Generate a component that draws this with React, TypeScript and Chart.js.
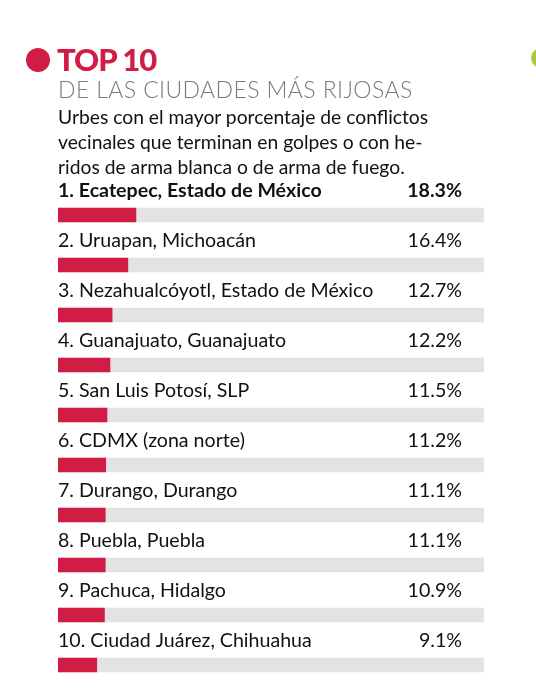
import React, { useEffect, useRef } from "react";
import { Chart, registerables } from "chart.js";

Chart.register(...registerables);

const cities = [
  "1. Ecatepec, Estado de México",
  "2. Uruapan, Michoacán",
  "3. Nezahualcóyotl, Estado de México",
  "4. Guanajuato, Guanajuato",
  "5. San Luis Potosí, SLP",
  "6. CDMX (zona norte)",
  "7. Durango, Durango",
  "8. Puebla, Puebla",
  "9. Pachuca, Hidalgo",
  "10. Ciudad Juárez, Chihuahua",
];
const percentages = [18.3, 16.4, 12.7, 12.2, 11.5, 11.2, 11.1, 11.1, 10.9, 9.1];
const trackMax = [100, 100, 100, 100, 100, 100, 100, 100, 100, 100];

const title = "TOP 10";
const subtitle = "DE LAS CIUDADES MÁS RIJOSAS";
const description = [
  "Urbes con el mayor porcentaje de conflictos",
  "vecinales que terminan en golpes o con he-",
  "ridos de arma blanca o de arma de fuego.",
];

const RED = "#d11c45";
const TRACK = "#e3e3e3";
const FONT = "Lato, 'Noto Sans', sans-serif";

const rowLabels = {
  id: "rowLabels",
  afterDatasetsDraw(chart: any) {
    const ctx = chart.ctx;
    const meta = chart.getDatasetMeta(0);
    const xs = chart.scales.x;
    ctx.save();
    ctx.fillStyle = "#111";
    ctx.textBaseline = "alphabetic";
    meta.data.forEach((bar: any, i: number) => {
      const top = bar.y - bar.height / 2;
      const y = top - 11;
      ctx.font = (i === 0 ? "bold " : "") + "19.6px " + FONT;
      ctx.textAlign = "left";
      ctx.fillText(cities[i], xs.left, y);
      ctx.textAlign = "right";
      ctx.fillText(percentages[i].toFixed(1) + "%", xs.right - 22, y);
    });
    ctx.restore();
  },
};

export default function App() {
  const ref = useRef<HTMLCanvasElement>(null);
  useEffect(() => {
    if (!ref.current) return;
    const chart = new Chart(ref.current, {
      type: "bar",
      data: {
        labels: cities,
        datasets: [
          {
            data: percentages,
            backgroundColor: RED,
            barThickness: 14,
            grouped: false,
          } as any,
          {
            data: trackMax,
            backgroundColor: TRACK,
            barThickness: 14,
            grouped: false,
          } as any,
        ],
      },
      options: {
        indexAxis: "y",
        responsive: false,
        animation: false,
        devicePixelRatio: 1,
        layout: { padding: { left: 58, right: 52, top: 190, bottom: 0 } },
        scales: {
          x: { display: false, min: 0, max: 100 },
          y: { display: false },
        },
        plugins: {
          legend: { display: false },
          tooltip: { enabled: false },
        },
      },
      plugins: [rowLabels],
    });
    return () => chart.destroy();
  }, []);

  return (
    <div style={{ position: "absolute", left: 0, top: 0, width: 536, height: 690, background: "#fff", overflow: "hidden", fontFamily: FONT }}>
      <canvas ref={ref} width={536} height={690} style={{ position: "absolute", left: 0, top: 0 }} />
      <div style={{ position: "absolute", left: 26, top: 48, width: 24, height: 24, borderRadius: "50%", background: RED }} />
      <div style={{ position: "absolute", left: 531, top: 48, width: 20, height: 20, borderRadius: "50%", background: "#a9c83c" }} />
      <div style={{ position: "absolute", left: 57, top: 44, fontSize: 31, lineHeight: "31px", fontWeight: 900, letterSpacing: -1, color: RED, whiteSpace: "nowrap" }}>{title}</div>
      <div style={{ position: "absolute", left: 58, top: 78, fontSize: 23, lineHeight: "23px", fontWeight: 300, letterSpacing: 0.4, color: "#7a7a7a", whiteSpace: "nowrap" }}>{subtitle}</div>
      {description.map((line, i) => (
        <div key={i} style={{ position: "absolute", left: 58, top: 107 + i * 25, fontSize: 19.3, lineHeight: "19px", color: "#111", whiteSpace: "nowrap" }}>{line}</div>
      ))}
    </div>
  );
}
